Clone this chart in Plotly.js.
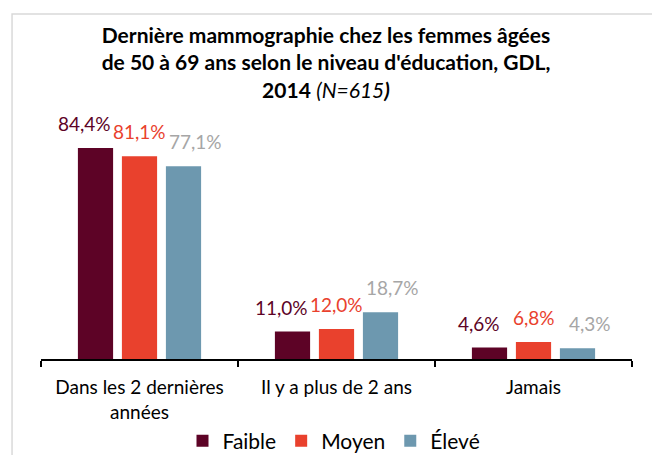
<!DOCTYPE html>
<html>
<head>
<meta charset="utf-8">
<script src="https://cdn.plot.ly/plotly-3.0.1.min.js"></script>
<style>
html,body{margin:0;padding:0;background:#fff;}
#chart{width:652px;height:455px;}
</style>
</head>
<body>
<div id="chart"></div>
<script>
var categories = ["Dans les 2 dernières<br>années", "Il y a plus de 2 ans", "Jamais"];
var seriesNames = ["Faible", "Moyen", "Élevé"];
var faible = [84.4, 11.0, 4.6];
var moyen = [81.1, 12.0, 6.8];
var eleve = [77.1, 18.7, 4.3];
var labelsFaible = ["84,4%", "11,0%", "4,6%"];
var labelsMoyen = ["81,1%", "12,0%", "6,8%"];
var labelsEleve = ["77,1%", "18,7%", "4,3%"];

var barColors = ["#5D0326", "#E9412D", "#6D98AF"];
var labelColors = ["#5D0326", "#E9412D", "#A6A6A6"];
var labelXShift = [-11, 0, 12];
var FONT = "Lato, 'Open Sans', sans-serif";

var values = [faible, moyen, eleve];
var labels = [labelsFaible, labelsMoyen, labelsEleve];

var bargap = 0.33;
var slot = (1 - bargap) / 3;

var traces = values.map(function (v, s) {
  return {
    type: "bar",
    name: seriesNames[s],
    x: categories,
    y: v,
    marker: {color: barColors[s]},
    hoverinfo: "skip"
  };
});

var annotations = [];
values.forEach(function (v, s) {
  v.forEach(function (val, i) {
    annotations.push({
      x: i + (s - 1) * slot,
      y: val,
      xref: "x",
      yref: "y",
      text: labels[s][i],
      showarrow: false,
      yanchor: "bottom",
      xanchor: "center",
      yshift: 11,
      xshift: labelXShift[s],
      font: {family: FONT, size: 19, color: labelColors[s]}
    });
  });
});

var layout = {
  width: 652,
  height: 455,
  paper_bgcolor: "#ffffff",
  plot_bgcolor: "#ffffff",
  margin: {l: 41, r: 20, t: 109, b: 96, autoexpand: false},
  barmode: "group",
  bargap: bargap,
  bargroupgap: 0.2,
  showlegend: true,
  title: {
    text: "<b>Dernière mammographie chez les femmes âgées<br>de 50 à 69 ans selon le niveau d'éducation, GDL,<br>2014</b> <i>(N=615</i><b><i>)</i></b>",
    x: 0.5,
    xref: "container",
    xanchor: "center",
    y: 1 - 43 / 455,
    yref: "container",
    yanchor: "top",
    font: {family: FONT, size: 21, color: "#000000"}
  },
  xaxis: {
    type: "category",
    showline: true,
    linecolor: "#000000",
    linewidth: 1.5,
    ticks: "outside",
    tickson: "boundaries",
    ticklen: 6,
    tickwidth: 1.5,
    tickcolor: "#000000",
    ticklabelstandoff: 11,
    showgrid: false,
    zeroline: false,
    automargin: false,
    tickfont: {family: FONT, size: 19, color: "#000000"},
    fixedrange: true
  },
  yaxis: {
    range: [0, 100],
    visible: false,
    showgrid: false,
    zeroline: false,
    fixedrange: true
  },
  legend: {
    orientation: "h",
    x: 0.5 + 8 / 652,
    xref: "container",
    xanchor: "center",
    y: 14 / 455,
    yref: "container",
    yanchor: "middle",
    font: {family: FONT, size: 21, color: "#000000"},
    itemclick: false,
    itemdoubleclick: false
  },
  annotations: annotations,
  shapes: [{
    type: "rect",
    xref: "paper",
    yref: "paper",
    x0: -0.049,
    x1: 1.06,
    y0: -0.45,
    y1: 1.38,
    line: {color: "#D9D9D9", width: 1.5},
    fillcolor: "rgba(0,0,0,0)",
    layer: "below"
  }]
};

Plotly.newPlot("chart", traces, layout, {displayModeBar: false, staticPlot: true});
</script>
</body>
</html>
